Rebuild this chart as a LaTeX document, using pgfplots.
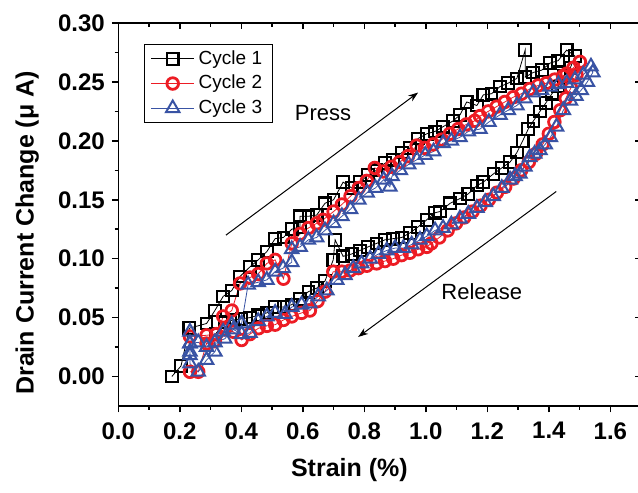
\documentclass[border=0pt]{standalone}
\usepackage{fontspec}
\setmainfont{Liberation Sans}
\usepackage{pgfplots}
\pgfplotsset{compat=1.18}
\usetikzlibrary{arrows.meta}
\definecolor{cred}{RGB}{237,28,36}
\definecolor{cblue}{RGB}{57,83,164}
\pgfplotsset{
  /pgf/number format/assume math mode=true,
  commonaxis/.style={
    at={(59.15pt,43.5pt)}, anchor=south west,
    scale only axis, width=261.4pt, height=191.5pt,
    xmin=0, xmax=1.7, ymin=-0.025, ymax=0.30,
    xtick={0,0.2,0.4,0.6,0.8,1.0,1.2,1.4,1.6},
    ytick={0,0.05,0.10,0.15,0.20,0.25,0.30},
    minor x tick num=1, minor y tick num=1,
    major tick length=3.2pt, minor tick length=1.8pt,
    tick style={line width=0.75pt, black},
    axis line style={line width=0.75pt},
  }
}
\begin{document}
\begin{tikzpicture}
\path[use as bounding box] (0,0) rectangle (319pt,246.5pt);
\begin{axis}[commonaxis,
  tick pos=left, tick align=outside,
  xticklabel={\pgfmathprintnumber[fixed,fixed zerofill,precision=1]{\tick}},
  yticklabel={\pgfmathprintnumber[fixed,fixed zerofill,precision=2]{\tick}},
  tick label style={font=\fontsize{12}{14}\selectfont\bfseries},
  x tick label style={yshift=-1.5pt},
  xlabel={Strain (\%)}, ylabel={Drain Current Change (μ A)},
  label style={font=\fontsize{12.5}{15}\selectfont\bfseries},
  xlabel style={at={(axis description cs:0.442,0)}, anchor=center, yshift=-32pt},
  ylabel style={at={(axis description cs:-0.174,0.452)}, anchor=center},
  legend style={at={(0,1)}, anchor=north west, xshift=13pt, yshift=-10.5pt,
    draw=black, font=\fontsize{9.5}{11}\selectfont, cells={anchor=west},
    inner ysep=1pt},
  legend image code/.code={\draw[mark repeat=2,mark phase=2] plot coordinates {(0cm,0cm) (0.38cm,0cm) (0.76cm,0cm)};},
]
\addplot[black, line width=0.4pt, mark=square, mark size=2.9pt, mark options={fill=white, line width=1.05pt, solid}] coordinates {
(0.174,0.000) (0.204,0.009) (0.231,0.041) (0.287,0.045) (0.314,0.056) (0.341,0.068)
(0.369,0.073) (0.396,0.085) (0.428,0.093) (0.455,0.099) (0.483,0.106) (0.510,0.117)
(0.537,0.118) (0.564,0.125) (0.591,0.127) (0.591,0.136) (0.618,0.136) (0.645,0.137)
(0.672,0.147) (0.700,0.150) (0.731,0.165) (0.759,0.160) (0.786,0.165) (0.812,0.171)
(0.840,0.175) (0.867,0.181) (0.894,0.184) (0.922,0.190) (0.949,0.194) (0.975,0.202)
(1.003,0.206) (1.030,0.208) (1.056,0.212) (1.089,0.217) (1.111,0.222) (1.133,0.233)
(1.166,0.230) (1.187,0.239) (1.214,0.240) (1.241,0.246) (1.268,0.249) (1.296,0.253)
(1.323,0.277) (1.323,0.254) (1.349,0.258) (1.377,0.260) (1.404,0.266) (1.430,0.268)
(1.458,0.277) (1.485,0.272)
(1.470,0.262) (1.450,0.255) (1.430,0.246) (1.410,0.240) (1.390,0.232) (1.371,0.225)
(1.350,0.217) (1.333,0.210) (1.315,0.200) (1.296,0.190) (1.274,0.182) (1.247,0.177)
(1.220,0.172) (1.187,0.165) (1.166,0.162) (1.138,0.155) (1.111,0.151) (1.079,0.147)
(1.046,0.140) (1.030,0.139) (1.003,0.133) (0.975,0.127) (0.949,0.122) (0.922,0.118)
(0.894,0.117) (0.867,0.116) (0.840,0.113) (0.812,0.110) (0.786,0.107) (0.759,0.104)
(0.731,0.102) (0.705,0.116) (0.699,0.099) (0.672,0.081) (0.645,0.075) (0.618,0.072)
(0.591,0.066) (0.564,0.061) (0.537,0.059) (0.510,0.059) (0.483,0.054) (0.455,0.052)
(0.428,0.050) (0.401,0.049) (0.373,0.048) (0.345,0.046) (0.316,0.036)
};
\addlegendentry{Cycle 1}
\addplot[cred, line width=0.4pt, mark=o, mark size=2.9pt, mark options={fill=white, line width=1.4pt, solid}] coordinates {
(0.233,0.004) (0.260,0.004) (0.287,0.028) (0.314,0.030) (0.341,0.051) (0.369,0.056)
(0.396,0.079) (0.428,0.084) (0.455,0.087) (0.483,0.096) (0.510,0.099) (0.537,0.083)
(0.564,0.113) (0.591,0.121) (0.618,0.126) (0.645,0.130) (0.666,0.133) (0.700,0.140)
(0.727,0.146) (0.755,0.153) (0.782,0.160) (0.808,0.166) (0.834,0.177) (0.861,0.174)
(0.888,0.178) (0.915,0.182) (0.942,0.187) (0.970,0.196) (0.997,0.194) (1.024,0.197)
(1.051,0.201) (1.078,0.206) (1.105,0.210) (1.132,0.214) (1.159,0.217) (1.176,0.221)
(1.203,0.225) (1.230,0.229) (1.257,0.233) (1.284,0.237) (1.311,0.240) (1.338,0.244)
(1.365,0.247) (1.392,0.249) (1.419,0.252) (1.446,0.255) (1.458,0.257) (1.480,0.262)
(1.501,0.267)
(1.490,0.256) (1.472,0.245) (1.455,0.236) (1.437,0.226) (1.418,0.216) (1.400,0.206)
(1.380,0.197) (1.358,0.189) (1.335,0.182) (1.310,0.175) (1.285,0.168) (1.258,0.161)
(1.231,0.156) (1.205,0.150) (1.178,0.145) (1.152,0.140) (1.125,0.135) (1.098,0.130)
(1.071,0.124) (1.044,0.118) (1.018,0.113) (1.003,0.110) (0.975,0.108) (0.948,0.105)
(0.921,0.103) (0.894,0.100) (0.867,0.098) (0.840,0.096) (0.808,0.094) (0.781,0.092)
(0.754,0.090) (0.727,0.089) (0.699,0.089) (0.672,0.072) (0.648,0.064) (0.623,0.056)
(0.596,0.054) (0.564,0.051) (0.537,0.048) (0.510,0.044) (0.483,0.043) (0.456,0.041)
(0.428,0.036) (0.401,0.031) (0.374,0.038) (0.346,0.040) (0.319,0.036) (0.287,0.035)
(0.233,0.034)
};
\addlegendentry{Cycle 2}
\addplot[cblue, line width=0.4pt, mark=triangle, mark size=3.9pt, mark options={fill=white, line width=1.0pt, solid}] coordinates {
(0.233,0.038) (0.233,0.028) (0.233,0.021) (0.233,0.018) (0.233,0.011) (0.260,0.004)
(0.287,0.014) (0.314,0.021) (0.341,0.038) (0.369,0.044) (0.401,0.045) (0.422,0.078)
(0.455,0.080) (0.483,0.082) (0.510,0.089) (0.536,0.092) (0.564,0.097) (0.564,0.108)
(0.591,0.110) (0.618,0.116) (0.645,0.118) (0.672,0.124) (0.700,0.130) (0.727,0.136)
(0.755,0.142) (0.782,0.150) (0.809,0.156) (0.836,0.160) (0.863,0.167) (0.883,0.161)
(0.890,0.170) (0.917,0.175) (0.944,0.180) (0.971,0.184) (0.998,0.188) (1.025,0.191)
(1.056,0.198) (1.083,0.200) (1.111,0.203) (1.138,0.208) (1.176,0.210) (1.205,0.216)
(1.241,0.222) (1.268,0.226) (1.296,0.230) (1.322,0.236) (1.349,0.241) (1.376,0.243)
(1.404,0.246) (1.431,0.248) (1.458,0.249) (1.485,0.252) (1.512,0.256) (1.537,0.263)
(1.543,0.258) (1.525,0.250) (1.505,0.243) (1.488,0.238) (1.470,0.234) (1.447,0.226)
(1.425,0.212) (1.405,0.203) (1.388,0.197) (1.371,0.192) (1.354,0.189) (1.338,0.186)
(1.322,0.178) (1.306,0.172) (1.290,0.170) (1.274,0.167) (1.247,0.160) (1.219,0.153)
(1.193,0.148) (1.166,0.143) (1.138,0.138) (1.111,0.134) (1.083,0.129) (1.056,0.126)
(1.030,0.124) (1.003,0.119) (0.981,0.116) (0.954,0.112) (0.927,0.109) (0.900,0.109)
(0.873,0.107) (0.846,0.104) (0.819,0.100) (0.791,0.096) (0.764,0.092) (0.737,0.086)
(0.710,0.082) (0.678,0.073) (0.650,0.068) (0.623,0.062) (0.596,0.061) (0.564,0.059)
(0.542,0.053) (0.510,0.054) (0.483,0.051) (0.455,0.047) (0.428,0.037) (0.401,0.036)
(0.374,0.040) (0.346,0.032) (0.314,0.029) (0.287,0.025) (0.260,0.029) (0.233,0.028)
};
\addlegendentry{Cycle 3}
\draw[-{Stealth[length=5pt,width=3.5pt]}, line width=0.5pt] (axis cs:0.350,0.120) -- (axis cs:0.975,0.241);
\draw[-{Stealth[length=5pt,width=3.5pt]}, line width=0.5pt] (axis cs:1.424,0.157) -- (axis cs:0.780,0.0336);
\node[font=\fontsize{11}{13}\selectfont] at (axis cs:0.666,0.224) {Press};
\node[font=\fontsize{11}{13}\selectfont] at (axis cs:1.182,0.072) {Release};
\end{axis}
\begin{axis}[commonaxis, tick pos=right, tick align=inside,
  xticklabels={}, yticklabels={}]
\end{axis}
\end{tikzpicture}
\end{document}
